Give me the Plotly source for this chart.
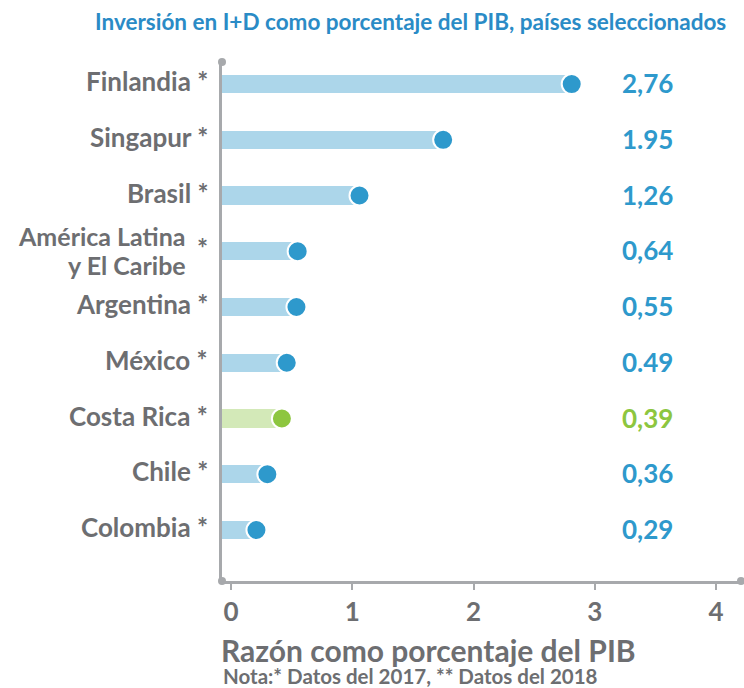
import plotly.graph_objects as go

# Data (top to bottom as shown)
countries = ["Finlandia", "Singapur", "Brasil", "América Latina y El Caribe",
             "Argentina", "México", "Costa Rica", "Chile", "Colombia"]
# bar lengths as drawn in the picture
bar_values = [2.81, 1.75, 1.06, 0.55, 0.54, 0.46, 0.42, 0.30, 0.21]
# printed value labels
value_labels = ["2,76", "1.95", "1,26", "0,64", "0,55", "0.49", "0,39", "0,36", "0,29"]
highlight = "Costa Rica"
x_ticks = [0, 1, 2, 3, 4]

title_text = "Inversión en I+D como porcentaje del PIB, países seleccionados"
xaxis_title = "Razón como porcentaje del PIB"
note_text = "Nota:* Datos del 2017, ** Datos del 2018"

# Styles
FONT = "Lato"
GRAY_TXT = "#6d6e71"
AXIS_GRAY = "#a7a9ac"
BLUE = "#2e99cc"
LIGHT_BLUE = "#acd6ea"
GREEN = "#8dc63f"
LIGHT_GREEN = "#d3e9b8"
TITLE_BLUE = "#2a8bc6"

X_MIN, X_MAX = -0.074, 4.206
Y_MIN, Y_MAX = -0.915, 8.395

W, H = 744, 688
plot_left, plot_right = 222, 741
top, bottom = 62, 581


def px_x(px):
    return (px - plot_left) / (plot_right - plot_left)


def px_y(py):
    return (bottom - py) / (bottom - top)


order = list(reversed(countries))  # bottom to top
vals = list(reversed(bar_values))
labs = list(reversed(value_labels))

dot_colors = [GREEN if c == highlight else BLUE for c in order]
bar_colors = [LIGHT_GREEN if c == highlight else LIGHT_BLUE for c in order]

fig = go.Figure()
fig.add_trace(go.Bar(
    y=order, x=[v - X_MIN for v in vals], base=X_MIN, orientation="h",
    marker=dict(color=bar_colors, line=dict(width=0)), width=0.33,
    hoverinfo="skip", showlegend=False,
))
fig.add_trace(go.Scatter(
    y=order, x=vals, mode="markers",
    marker=dict(size=20, color=dot_colors, line=dict(color="white", width=2)),
    showlegend=False, cliponaxis=False,
))

LABEL_FONT = dict(family=FONT, size=26, color=GRAY_TXT, weight="bold")
ALC_FONT = dict(family=FONT, size=25, color=GRAY_TXT, weight="bold")
annotations = []
# value labels
for c, lab, col in zip(order, labs, dot_colors):
    annotations.append(dict(
        x=px_x(620), xref="paper", y=c, yref="y",
        text=lab, showarrow=False, xanchor="left", yanchor="middle",
        font=dict(family=FONT, size=26, color=col, weight="bold"), yshift=1,
    ))

# category labels
for c in order:
    if c == "América Latina y El Caribe":
        annotations.append(dict(x=px_x(188), xref="paper", y=c, yref="y",
                                text="América Latina", showarrow=False,
                                xanchor="right", yanchor="middle", yshift=15,
                                font=ALC_FONT))
        annotations.append(dict(x=px_x(188), xref="paper", y=c, yref="y",
                                text="y El Caribe", showarrow=False,
                                xanchor="right", yanchor="middle", yshift=-14,
                                font=ALC_FONT))
        annotations.append(dict(x=px_x(210), xref="paper", y=c, yref="y",
                                text="*", showarrow=False,
                                xanchor="right", yanchor="middle", yshift=3,
                                font=LABEL_FONT))
    else:
        annotations.append(dict(x=px_x(210), xref="paper", y=c, yref="y",
                                text=c + " *", showarrow=False,
                                xanchor="right", yanchor="middle", yshift=3,
                                font=LABEL_FONT))

# title, axis title, note
annotations.append(dict(x=px_x(410), y=px_y(22), xref="paper", yref="paper", text=title_text,
                        showarrow=False, xanchor="center", yanchor="middle",
                        font=dict(family=FONT, size=22.5, color=TITLE_BLUE, weight="bold")))
annotations.append(dict(x=px_x(219), y=px_y(650), xref="paper", yref="paper", text=xaxis_title,
                        showarrow=False, xanchor="left", yanchor="middle",
                        font=dict(family=FONT, size=30, color=GRAY_TXT, weight="bold")))
annotations.append(dict(x=px_x(221), y=px_y(676), xref="paper", yref="paper", text=note_text,
                        showarrow=False, xanchor="left", yanchor="middle",
                        font=dict(family=FONT, size=20.5, color=GRAY_TXT, weight="bold")))

shapes = []
for (px, py) in [(0, 1), (0, 0), (1, 0)]:
    shapes.append(dict(type="circle", xref="paper", yref="paper",
                       xsizemode="pixel", ysizemode="pixel",
                       xanchor=px, yanchor=py, x0=-4, x1=4, y0=-4, y1=4,
                       fillcolor=AXIS_GRAY, line=dict(width=0)))

fig.update_layout(
    width=W, height=H,
    margin=dict(l=plot_left, r=W - plot_right, t=top, b=H - bottom, pad=0),
    paper_bgcolor="white", plot_bgcolor="white",
    annotations=annotations, shapes=shapes, bargap=0,
    xaxis=dict(range=[X_MIN, X_MAX], tickvals=x_ticks, ticktext=[str(t) for t in x_ticks],
               showgrid=False, zeroline=False, showline=True, linecolor=AXIS_GRAY, linewidth=2.5,
               ticks="outside", ticklen=6, tickwidth=2, tickcolor=AXIS_GRAY,
               tickfont=dict(family=FONT, size=26, color=GRAY_TXT, weight="bold")),
    yaxis=dict(range=[Y_MIN, Y_MAX], categoryorder="array", categoryarray=order,
               showticklabels=False, showgrid=False, zeroline=False, showline=True,
               linecolor=AXIS_GRAY, linewidth=2.5, ticks=""),
)

fig.write_html("out.html", config={"displayModeBar": False})

# remove the browser's default page margin so the figure sits at the window's corner
with open("out.html", "r", encoding="utf-8") as f:
    html = f.read()
html = html.replace("<body>", '<body style="margin:0;padding:0;overflow:hidden">', 1)
with open("out.html", "w", encoding="utf-8") as f:
    f.write(html)
